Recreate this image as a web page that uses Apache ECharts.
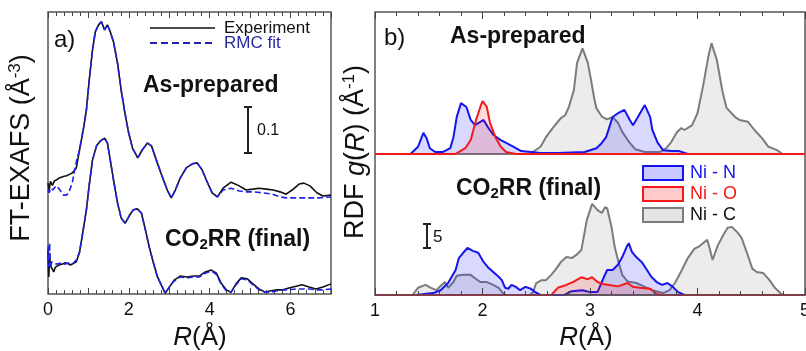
<!DOCTYPE html>
<html><head><meta charset="utf-8">
<script src="https://cdn.jsdelivr.net/npm/echarts@6/dist/echarts.min.js"></script>
<style>html,body{margin:0;padding:0;background:#fff}#c{width:806px;height:351px}</style>
</head><body><div id="c"></div>
<script>
// ---------- Panel a: FT-EXAFS ----------
const expTopR = [0.00,0.03,0.06,0.11,0.16,0.21,0.27,0.33,0.40,0.46,0.53,0.60,0.70,0.78,0.88,0.95,1.02,1.10,1.17,1.25,1.32,1.40,1.47,1.54,1.62,1.72,1.81,1.89,1.99,2.09,2.22,2.33,2.46,2.56,2.68,2.83,2.95,3.05,3.15,3.27,3.42,3.57,3.69,3.81,3.94,4.06,4.19,4.33,4.53,4.73,4.90,5.07,5.22,5.40,5.57,5.74,5.89,6.04,6.21,6.33,6.48,6.65,6.80,7.00];
const expTopY = [0.241,0.226,0.245,0.236,0.246,0.248,0.252,0.254,0.256,0.257,0.260,0.263,0.274,0.313,0.361,0.400,0.465,0.530,0.570,0.585,0.592,0.574,0.585,0.570,0.548,0.502,0.443,0.400,0.352,0.317,0.296,0.313,0.328,0.322,0.291,0.254,0.226,0.209,0.226,0.252,0.274,0.283,0.285,0.270,0.243,0.220,0.211,0.230,0.243,0.235,0.226,0.228,0.230,0.228,0.226,0.222,0.217,0.226,0.239,0.241,0.235,0.220,0.213,0.215];
const fitTopR = [0.00,0.03,0.07,0.12,0.20,0.28,0.38,0.46,0.52,0.60,0.66,0.72,0.78,0.88,0.95,1.02,1.10,1.17,1.25,1.32,1.40,1.47,1.54,1.62,1.72,1.81,1.89,1.99,2.09,2.22,2.33,2.46,2.56,2.68,2.83,2.95,3.05,3.15,3.27,3.42,3.57,3.69,3.81,3.94,4.06,4.19,4.33,4.53,4.73,4.90,5.07,5.30,5.55,5.74,5.90,6.10,6.40,6.70,7.00];
const fitTopY = [0.226,0.220,0.230,0.226,0.235,0.228,0.215,0.215,0.222,0.241,0.270,0.295,0.313,0.361,0.400,0.465,0.530,0.570,0.585,0.592,0.574,0.585,0.570,0.548,0.502,0.443,0.400,0.352,0.317,0.296,0.313,0.328,0.322,0.291,0.254,0.226,0.209,0.226,0.252,0.274,0.283,0.285,0.270,0.243,0.220,0.211,0.226,0.230,0.224,0.222,0.222,0.220,0.217,0.211,0.209,0.209,0.209,0.209,0.211];
const expBotR = [0.00,0.02,0.04,0.06,0.10,0.14,0.18,0.23,0.30,0.36,0.42,0.48,0.55,0.60,0.70,0.78,0.85,0.95,1.02,1.10,1.20,1.30,1.40,1.47,1.54,1.62,1.72,1.81,1.91,2.01,2.11,2.21,2.31,2.41,2.51,2.60,2.70,2.80,2.90,3.00,3.12,3.27,3.44,3.60,3.74,3.89,4.04,4.16,4.28,4.41,4.53,4.65,4.78,4.93,5.07,5.22,5.37,5.52,5.67,5.81,5.96,6.14,6.28,6.46,6.63,6.80,7.00];
const expBotY = [0.096,0.037,0.085,0.063,0.055,0.048,0.058,0.061,0.064,0.065,0.068,0.067,0.063,0.065,0.070,0.091,0.128,0.183,0.237,0.291,0.322,0.333,0.339,0.328,0.291,0.248,0.198,0.165,0.154,0.170,0.183,0.185,0.176,0.139,0.100,0.070,0.039,0.020,0.002,0.015,0.030,0.039,0.037,0.039,0.039,0.048,0.052,0.046,0.024,0.009,0.004,0.022,0.035,0.033,0.022,0.011,0.004,0.007,0.009,0.009,0.013,0.017,0.020,0.015,0.011,0.015,0.022];
const fitBotR = [0.00,0.01,0.02,0.04,0.06,0.09,0.14,0.20,0.30,0.40,0.50,0.60,0.70,0.78,0.85,0.95,1.02,1.10,1.20,1.30,1.40,1.47,1.54,1.62,1.72,1.81,1.91,2.01,2.11,2.21,2.31,2.41,2.51,2.60,2.70,2.80,2.90,3.00,3.12,3.27,3.44,3.60,3.74,3.89,4.04,4.16,4.28,4.41,4.53,4.65,4.78,4.93,5.07,5.22,5.37,5.52,5.67,5.81,5.96,6.14,6.28,6.46,6.63,6.80,7.00];
const fitBotY = [0.070,0.107,0.060,0.111,0.055,0.070,0.068,0.065,0.067,0.065,0.067,0.065,0.074,0.091,0.128,0.183,0.237,0.291,0.322,0.333,0.339,0.328,0.291,0.248,0.198,0.165,0.154,0.170,0.183,0.185,0.176,0.139,0.100,0.070,0.039,0.020,0.002,0.015,0.028,0.037,0.035,0.037,0.037,0.045,0.050,0.043,0.022,0.007,0.004,0.020,0.033,0.031,0.020,0.009,0.004,0.004,0.007,0.009,0.009,0.011,0.011,0.011,0.009,0.009,0.011];
const aTicks = [0,2,4,6];

// ---------- Panel b: RDF g(R) ----------
const nnTopR = [1.00,1.33,1.40,1.45,1.48,1.51,1.56,1.63,1.70,1.73,1.76,1.80,1.85,1.89,1.93,1.98,2.01,2.05,2.10,2.17,2.22,2.29,2.36,2.45,2.54,2.70,2.95,3.06,3.11,3.15,3.18,3.21,3.26,3.32,3.37,3.40,3.44,3.51,3.56,3.58,3.63,3.68,3.76,3.83,3.91,5.00];
const nnTopG = [0,0,1.5,4.4,3.3,1.2,0.4,0.4,1.2,3.5,7.7,10.6,9.8,7.1,6.0,6.7,7.1,5.6,4.0,2.9,2.3,1.5,0.6,0.4,0.2,0.2,0.4,1.2,2.3,3.5,5.6,7.7,8.5,9.2,7.1,6.0,7.5,10.2,7.7,5.0,2.3,0.8,0.6,0.6,0,0];
const noTopR = [1.00,1.75,1.84,1.89,1.94,1.98,2.00,2.04,2.07,2.12,2.17,2.22,2.31,5.00];
const noTopG = [0,0,1.2,2.9,7.1,9.8,11.0,9.8,6.5,3.5,1.5,0.4,0,0];
const ncTopR = [1.00,2.44,2.54,2.59,2.66,2.73,2.77,2.80,2.85,2.88,2.93,2.98,3.01,3.04,3.06,3.11,3.16,3.21,3.26,3.30,3.37,3.42,3.51,3.65,3.71,3.75,3.81,3.85,3.88,3.95,4.00,4.05,4.10,4.13,4.18,4.23,4.27,4.35,4.39,4.47,4.53,4.60,4.66,4.74,4.79,5.00];
const ncTopG = [0,0,1.5,3.5,5.6,7.5,8.1,9.6,13.3,19.0,22.0,19.0,15.4,11.5,9.5,7.8,7.2,7.7,6.5,4.6,2.3,1.0,0.4,0.4,1.2,2.3,4.6,5.4,5.0,6.0,8.5,14.0,20.2,23.1,19.6,13.3,9.6,7.7,7.1,6.7,5.0,3.3,1.5,0.8,0,0];

const nnBotR = [1.00,1.38,1.54,1.61,1.68,1.75,1.78,1.82,1.86,1.91,1.96,2.01,2.05,2.10,2.15,2.18,2.21,2.24,2.27,2.31,2.35,2.40,2.45,2.49,2.54,2.76,2.83,2.93,3.00,3.07,3.13,3.16,3.21,3.26,3.30,3.34,3.36,3.39,3.43,3.48,3.53,3.57,3.62,3.67,3.72,3.77,3.82,3.88,5.00];
const nnBotG = [0,0,0.4,1.0,2.5,5.2,7.7,8.8,9.8,9.2,8.8,6.9,5.8,4.8,3.8,3.1,1.5,1.3,2.1,1.7,1.0,1.7,1.3,0.6,0,0,0.8,1.0,0.6,0.6,3.8,5.2,5.2,6.3,7.9,10.0,10.8,9.0,7.9,6.9,5.2,3.8,2.7,2.1,2.5,1.7,0.6,0,0];
const noBotR = [1.00,2.64,2.70,2.78,2.84,2.92,2.98,3.02,3.07,3.12,3.18,3.26,3.35,3.40,3.46,3.56,3.62,3.67,5.00];
const noBotG = [0,0,1.5,2.1,2.7,3.7,3.3,3.7,2.7,2.3,2.1,1.8,2.5,1.7,1.5,1.3,0.2,0,0];
const ncBotR = [1.00,1.35,1.40,1.47,1.52,1.57,1.62,1.65,1.68,1.73,1.76,1.82,1.89,1.93,1.98,2.04,2.10,2.15,2.19,2.22,2.44,2.47,2.50,2.55,2.59,2.64,2.69,2.73,2.78,2.83,2.87,2.92,2.97,3.02,3.07,3.11,3.14,3.16,3.20,3.23,3.26,3.30,3.35,3.43,3.51,3.58,3.68,3.74,3.79,3.85,3.91,3.97,4.02,4.09,4.11,4.14,4.19,4.24,4.28,4.32,4.37,4.41,4.46,4.51,4.55,4.61,4.67,4.72,4.77,4.80,5.00];
const ncBotG = [0,0,1.5,2.1,1.5,1.0,2.1,2.7,1.5,2.7,4.0,4.2,4.2,3.5,2.7,2.7,2.1,1.5,0.4,0,0,0.6,2.5,3.1,3.1,4.2,5.6,6.9,7.9,7.7,8.3,9.4,15.6,19.0,17.7,17.1,18.3,18.1,14.2,10.0,7.3,4.2,2.8,2.5,1.7,1.0,0.4,1.0,2.5,5.0,7.7,9.6,10.2,11.5,10.0,7.3,10.4,12.5,14.0,14.2,13.1,11.9,8.8,5.5,4.8,4.6,3.1,1.5,0.4,0,0];
const bTicks = [1,2,3,4,5];

// ---------- styles / layout ----------
const FONT = '"Liberation Sans", Arial, sans-serif';
const TOP_OFFSET = 29.4;   // vertical offset of the as-prepared RDF curves
const zip = (a, b, off) => a.map((v, i) => [v, b[i] + (off || 0)]);

const BLUE = '#1414ee', RED = '#f51a1a', GRAY = '#7c7c7c';
const BLUE_F = 'rgba(40,40,255,0.25)', RED_F = 'rgba(255,20,20,0.22)', GRAY_F = 'rgba(120,120,120,0.2)';

function xAx(grid, pos, min, max, labels, majLen, show) {
  return {
    type: 'value', gridIndex: grid, position: pos, min: min, max: max, interval: 1,
    axisLine: { show: false },
    axisTick: { show: true, inside: true, length: majLen, lineStyle: { color: '#444', width: 1 } },
    minorTick: { show: true, splitNumber: 5, length: 4, lineStyle: { color: '#444', width: 1 } },
    splitLine: { show: false }, minorSplitLine: { show: false },
    axisLabel: {
      show: show, margin: 7, fontFamily: FONT, fontSize: 18, color: '#111',
      formatter: v => (labels.indexOf(v) >= 0 ? String(v) : '')
    }
  };
}

const series = [
  { name: 'Experiment top', data: zip(expTopR, expTopY), color: '#111', dash: null },
  { name: 'RMC fit top', data: zip(fitTopR, fitTopY), color: '#2222e8', dash: [6, 3] },
  { name: 'Experiment bottom', data: zip(expBotR, expBotY), color: '#111', dash: null },
  { name: 'RMC fit bottom', data: zip(fitBotR, fitBotY), color: '#2222e8', dash: [6, 3] }
].map(s => ({
  type: 'line', xAxisIndex: 0, yAxisIndex: 0, name: s.name, data: s.data, showSymbol: false, symbol: 'none',
  lineStyle: { color: s.color, width: 1.6, type: s.dash || 'solid' }, silent: true, z: s.dash ? 3 : 2
}));

function rdf(name, R, G, off, stroke, fill, z) {
  return {
    type: 'line', xAxisIndex: 2, yAxisIndex: 1, name: name, data: zip(R, G, off), showSymbol: false, symbol: 'none',
    lineStyle: { color: stroke, width: 2 }, areaStyle: { color: fill, origin: off }, z: z, silent: true
  };
}
series.push(
  rdf('Ni - C top', ncTopR, ncTopG, TOP_OFFSET, GRAY, GRAY_F, 2),
  rdf('Ni - N top', nnTopR, nnTopG, TOP_OFFSET, BLUE, BLUE_F, 3),
  rdf('Ni - O top', noTopR, noTopG, TOP_OFFSET, RED, RED_F, 4),
  rdf('Ni - C bottom', ncBotR, ncBotG, 0, GRAY, GRAY_F, 2),
  rdf('Ni - N bottom', nnBotR, nnBotG, 0, BLUE, BLUE_F, 3),
  rdf('Ni - O bottom', noBotR, noBotG, 0, RED, RED_F, 4)
);

const bold = { fontFamily: FONT, fontWeight: 'bold', fontSize: 23, fill: '#111' };
function txt(x, y, text, extra, rot) {
  return { type: 'text', x: x, y: y, z: 20, silent: true, rotation: rot || 0,
    style: Object.assign({ text: text, fontFamily: FONT, fontSize: 17, fill: '#111', align: 'left', verticalAlign: 'middle' }, extra || {}) };
}
function line(x1, y1, x2, y2, stroke, w, dash) {
  return { type: 'line', z: 20, silent: true, shape: { x1, y1, x2, y2 }, style: { stroke, lineWidth: w, lineDash: dash || null } };
}
const coRich = {
  m: { fontFamily: FONT, fontWeight: 'bold', fontSize: 23, fill: '#111', lineHeight: 25 },
  s: { fontFamily: FONT, fontWeight: 'bold', fontSize: 15, fill: '#111', lineHeight: 15, verticalAlign: 'bottom' }
};
const axRich = {
  i: { fontFamily: FONT, fontStyle: 'italic', fontSize: 26, fill: '#111', lineHeight: 29 },
  n: { fontFamily: FONT, fontSize: 26, fill: '#111', lineHeight: 29 },
  u: { fontFamily: FONT, fontSize: 16, fill: '#111', lineHeight: 16, verticalAlign: 'top' }
};
const yRich = {
  i: { fontFamily: FONT, fontStyle: 'italic', fontSize: 27, fill: '#111', lineHeight: 30 },
  n: { fontFamily: FONT, fontSize: 27, fill: '#111', lineHeight: 30 },
  u: { fontFamily: FONT, fontSize: 17, fill: '#111', lineHeight: 17, verticalAlign: 'top' }
};

const graphic = [
  // panel a annotations
  txt(54, 40, 'a)', { fontSize: 24 }),
  line(150, 28, 215, 28, '#111', 1.6),
  txt(224, 28, 'Experiment', { fontSize: 17 }),
  line(150, 43, 215, 43, '#2222b0', 2, [7, 4]),
  txt(224, 43, 'RMC fit', { fontSize: 17, fill: '#2a2a9c' }),
  txt(143, 86, 'As-prepared', bold),
  line(248, 107, 248, 153, '#222', 2), line(244, 107, 252, 107, '#222', 2), line(244, 153, 252, 153, '#222', 2),
  txt(257, 131, '0.1', { fontSize: 16 }),
  txt(165, 240, '{m|CO}{s|2}{m|RR (final)}', { rich: coRich }),
  // panel a axis names
  txt(22, 148, '{n|FT-EXAFS (Å}{u|-3}{n|)}', { rich: yRich, align: 'center' }, Math.PI / 2),
  txt(200, 338, '{i|R}{n|(Å)}', { rich: axRich, align: 'center' }),
  // panel b annotations
  txt(384, 38, 'b)', { fontSize: 24 }),
  txt(450, 37, 'As-prepared', bold),
  txt(456, 189, '{m|CO}{s|2}{m|RR (final)}', { rich: coRich }),
  line(427, 224, 427, 248, '#222', 2), line(423, 224, 431, 224, '#222', 2), line(423, 248, 431, 248, '#222', 2),
  txt(433, 237, '5', { fontSize: 17 }),
  { type: 'rect', z: 20, silent: true, shape: { x: 643, y: 166, width: 40, height: 14 }, style: { fill: BLUE_F, stroke: BLUE, lineWidth: 2 } },
  { type: 'rect', z: 20, silent: true, shape: { x: 643, y: 187, width: 40, height: 14 }, style: { fill: RED_F, stroke: RED, lineWidth: 2 } },
  { type: 'rect', z: 20, silent: true, shape: { x: 643, y: 208, width: 40, height: 14 }, style: { fill: GRAY_F, stroke: GRAY, lineWidth: 2 } },
  txt(690, 173, 'Ni - N', { fontSize: 18, fill: BLUE }),
  txt(690, 194, 'Ni - O', { fontSize: 18, fill: RED }),
  txt(690, 215, 'Ni - C', { fontSize: 18, fill: '#111' }),
  txt(586, 338, '{i|R}{n|(Å)}', { rich: axRich, align: 'center' }),
  txt(356, 152, '{n|RDF }{i|g}{n|(}{i|R}{n|) (Å}{u|-1}{n|)}', { rich: yRich, align: 'center' }, Math.PI / 2)
];

const chart = echarts.init(document.getElementById('c'), null, { renderer: 'canvas' });
chart.setOption({
  animation: false,
  backgroundColor: '#fff',
  grid: [
    { left: 48, top: 12, width: 283, height: 282, show: true, borderColor: '#555', borderWidth: 1.5, backgroundColor: 'transparent', outerBoundsMode: 'none', containLabel: false },
    { left: 375, top: 12, width: 430, height: 283, show: true, borderColor: '#555', borderWidth: 1.5, backgroundColor: 'transparent', outerBoundsMode: 'none', containLabel: false }
  ],
  xAxis: [
    xAx(0, 'bottom', 0, 7, aTicks, 6, true),
    xAx(0, 'top', 0, 7, aTicks, 6, false),
    Object.assign(xAx(1, 'bottom', 1, 5, bTicks, 7, true), { axisLine: { show: true, lineStyle: { color: '#5a4a5a', width: 1.5 } }, z: 10 }),
    xAx(1, 'top', 1, 5, bTicks, 7, false)
  ],
  yAxis: [
    { type: 'value', gridIndex: 0, min: 0, max: 0.613, axisLine: { show: false }, axisTick: { show: false }, axisLabel: { show: false }, splitLine: { show: false } },
    { type: 'value', gridIndex: 1, min: 0, max: 59, axisLine: { show: false }, axisTick: { show: false }, axisLabel: { show: false }, splitLine: { show: false } }
  ],
  series: series,
  graphic: graphic
});
</script></body></html>
